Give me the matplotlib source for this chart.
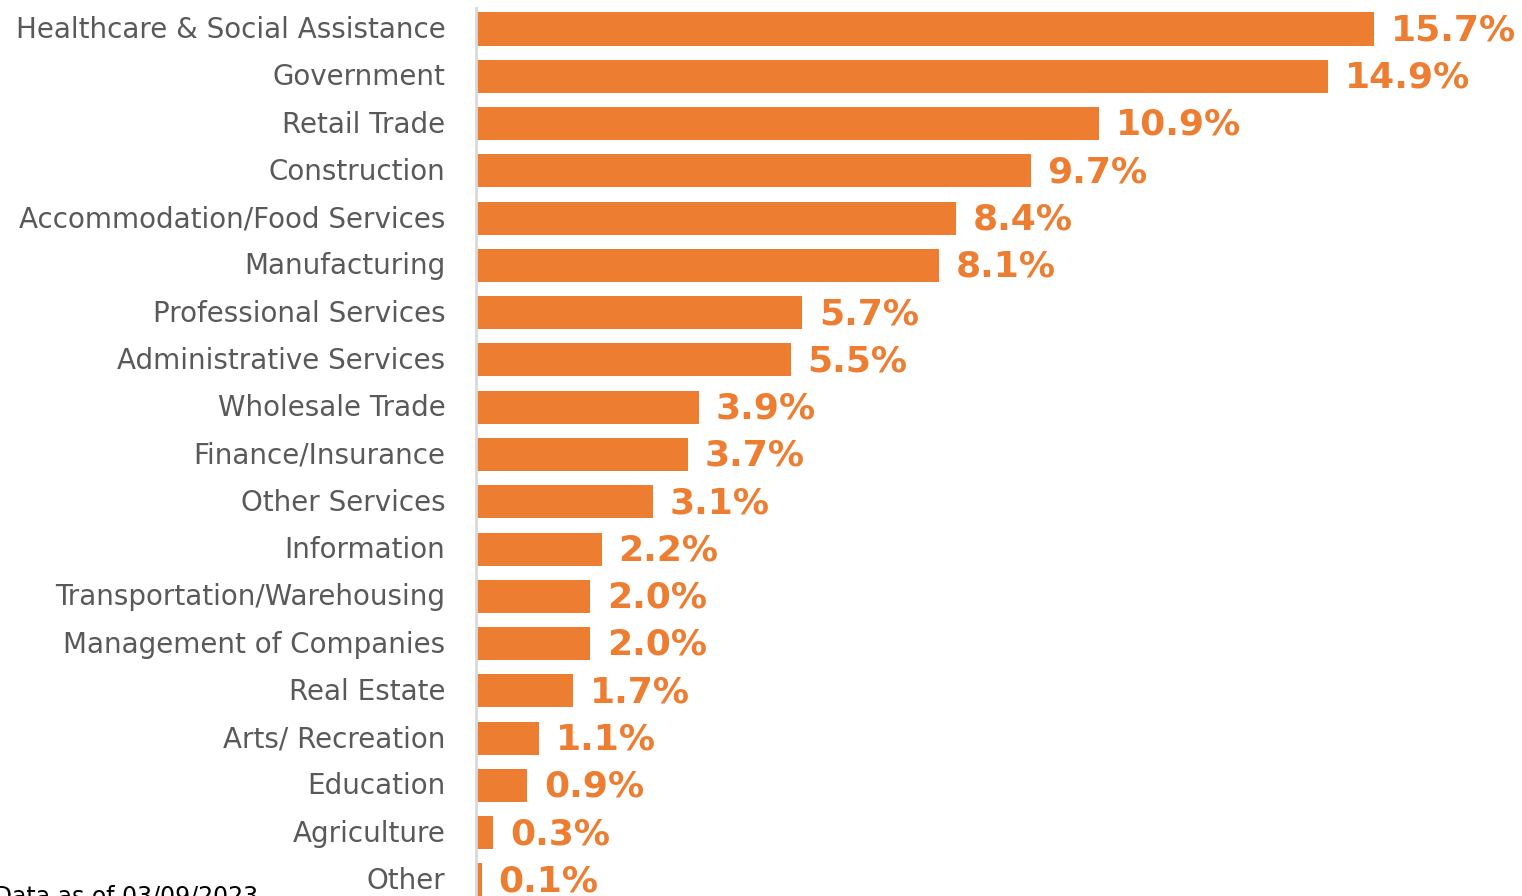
import matplotlib
matplotlib.use("Agg")
import matplotlib.pyplot as plt
import matplotlib.transforms as mtransforms

categories = ["Healthcare & Social Assistance", "Government", "Retail Trade", "Construction",
              "Accommodation/Food Services", "Manufacturing", "Professional Services",
              "Administrative Services", "Wholesale Trade", "Finance/Insurance", "Other Services",
              "Information", "Transportation/Warehousing", "Management of Companies",
              "Real Estate", "Arts/ Recreation", "Education", "Agriculture", "Other"]
values = [15.7, 14.9, 10.9, 9.7, 8.4, 8.1, 5.7, 5.5, 3.9, 3.7, 3.1, 2.2, 2.0, 2.0, 1.7, 1.1, 0.9, 0.3, 0.1]
footnote = "County Data as of 03/09/2023"

W, H = 1522, 896
fig = plt.figure(figsize=(W / 100, H / 100), dpi=100)
left_px, top_px, bot_px = 476, 8, 901
ax = fig.add_axes([left_px / W, (H - bot_px) / H, (W - left_px) / W, (bot_px - top_px) / H])

orange = "#ED7D31"
ypos = list(range(len(categories)))
bars = ax.barh(ypos, values, height=0.7, color=orange)
ax.set_ylim(len(categories) - 1 + 0.445, -0.445)
ax.set_xlim(0, (W - left_px) / 57.2)

ax.set_yticks(ypos)
ax.set_yticklabels(categories, fontsize=20, color="#595959")
ax.tick_params(axis="y", length=0, pad=22)
shift = mtransforms.ScaledTranslation(0, 2 / 100, fig.dpi_scale_trans)
for lbl in ax.get_yticklabels():
    lbl.set_transform(lbl.get_transform() + shift)
ax.set_xticks([])
for s in ["top", "right", "bottom"]:
    ax.spines[s].set_visible(False)
ax.spines["left"].set_color("#D9D9D9")
ax.spines["left"].set_linewidth(2)

for b, v in zip(bars, values):
    ax.annotate(f"{v:.1f}%", xy=(b.get_width(), b.get_y() + b.get_height() / 2),
                xytext=(12, -1), textcoords="offset points", va="center", ha="left",
                fontsize=26, fontweight="bold", color=orange)

fig.text(258 / W, (H - 885) / H, footnote, ha="right", va="top", fontsize=17, color="black")

fig.savefig("out.png", dpi=100)
